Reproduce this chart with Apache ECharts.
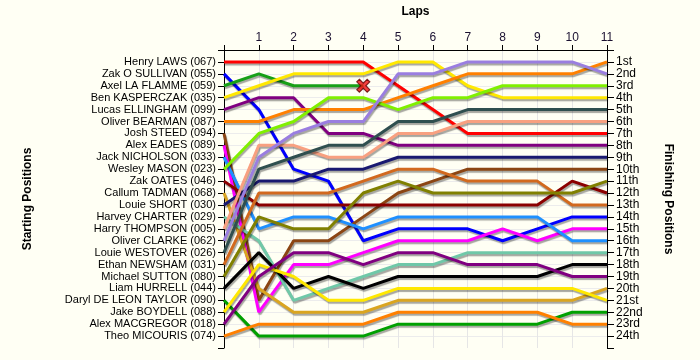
<!DOCTYPE html>
<html>
<head>
<meta charset="utf-8">
<script src="https://cdn.jsdelivr.net/npm/echarts@6/dist/echarts.min.js"></script>
<style>
html,body{margin:0;padding:0;background:#fffff4;}
#chart{width:700px;height:360px;}
</style>
</head>
<body>
<div id="chart"></div>
<script>
// Lap numbers
const laps = [0,1,2,3,4,5,6,7,8,9,10,11];
// Starting-grid names (row order)
const drivers = [
  "Henry LAWS (067)","Zak O SULLIVAN (055)","Axel LA FLAMME (059)","Ben KASPERCZAK (035)",
  "Lucas ELLINGHAM (099)","Oliver BEARMAN (087)","Josh STEED (094)","Alex EADES (089)",
  "Jack NICHOLSON (033)","Wesley MASON (023)","Zak OATES (046)","Callum TADMAN (068)",
  "Louie SHORT (030)","Harvey CHARTER (029)","Harry THOMPSON (005)","Oliver CLARKE (062)",
  "Louie WESTOVER (026)","Ethan NEWSHAM (031)","Michael SUTTON (080)","Liam HURRELL (044)",
  "Daryl DE LEON TAYLOR (090)","Jake BOYDELL (088)","Alex MACGREGOR (018)","Theo MICOURIS (074)"
];
// Finishing position tick labels
const finishLabels = ["1st","2nd","3rd","4th","5th","6th","7th","8th","9th","10th","11th","12th",
  "13th","14th","15th","16th","17th","18th","19th","20th","21st","22nd","23rd","24th"];

// Position per lap (lap 0 = grid)
const laws       = [1,1,1,1,1,3,5,7,7,7,7,7];
const osullivan  = [2,5,10,11,16,15,15,15,16,15,14,14];
const laflamme   = [3,2,3,3,3];               // retired after lap 4
const kasperczak = [4,3,2,2,2,1,1,3,4,4,4,4];
const ellingham  = [5,4,4,7,7,8,8,8,8,8,8,8];
const bearman    = [6,6,5,5,5,4,3,2,2,2,2,1];
const steed      = [7,21,16,16,14,12,11,10,10,10,10,10];
const eades      = [8,22,18,18,17,16,16,16,15,16,15,15];
const nicholson  = [9,15,14,14,15,14,14,14,14,14,16,16];
const mason      = [10,7,6,4,4,5,4,4,3,3,3,3];
const oates      = [11,13,13,13,13,13,13,13,13,13,11,12];
const tadman     = [12,20,22,22,22,21,21,21,21,21,21,20];
const short      = [13,11,11,10,10,9,9,9,9,9,9,9];
const charter    = [14,16,21,20,19,18,18,17,17,17,17,17];
const thompson   = [15,8,8,9,9,7,7,6,6,6,6,6];
const clarke     = [16,9,7,6,6,2,2,1,1,1,1,2];
const westover   = [17,10,9,8,8,6,6,5,5,5,5,5];
const newsham    = [18,12,12,12,11,10,10,11,11,11,13,13];
const sutton     = [19,14,15,15,12,11,12,12,12,12,12,11];
const hurrell    = [20,17,20,19,20,19,19,19,19,19,18,18];
const taylor     = [21,24,24,24,24,23,23,23,23,23,22,22];
const boydell    = [22,18,19,21,21,20,20,20,20,20,20,21];
const macgregor  = [23,19,17,17,18,17,17,18,18,18,19,19];
const micouris   = [24,23,23,23,23,22,22,22,22,22,23,23];

const positions = [laws,osullivan,laflamme,kasperczak,ellingham,bearman,steed,eades,nicholson,
  mason,oates,tadman,short,charter,thompson,clarke,westover,newsham,sutton,hurrell,taylor,
  boydell,macgregor,micouris];

const colors = ['#ff0000','#0000ff','#17a017','#ffe800','#800080','#ff8000','#8b4513','#ff00ff',
  '#1e90ff','#80f000','#8b0000','#daa520','#191970','#70c8a8','#f8a080','#9a7ee0','#2f4f4f',
  '#d2691e','#808000','#000000','#00a000','#ffe800','#800080','#ff8000'];

const series = positions.map((arr, i) => ({
  type: 'line',
  name: drivers[i],
  data: arr.map((p, k) => [laps[k], p]),
  showSymbol: false,
  symbol: 'none',
  silent: true,
  z: 3,
  lineStyle: {
    color: colors[i], width: 3,
    shadowColor: 'rgba(0,0,0,0.35)', shadowOffsetX: 1, shadowOffsetY: 2, shadowBlur: 1
  }
}));

// retirement marker
series.push({
  type: 'scatter',
  silent: true,
  z: 5,
  data: [[laps[laflamme.length - 1], laflamme[laflamme.length - 1]]],
  symbol: 'path://M2,0 L5,3 L8,0 L10,2 L7,5 L10,8 L8,10 L5,7 L2,10 L0,8 L3,5 L0,2 Z',
  symbolSize: 13,
  itemStyle: { color: '#f01010', borderColor: '#600000', borderWidth: 1.2 }
});

const font = 'Liberation Sans, Arial, sans-serif';
const chart = echarts.init(document.getElementById('chart'), null, {renderer: 'canvas'});
chart.setOption({
  animation: false,
  backgroundColor: '#fffff4',
  textStyle: { fontFamily: font },
  grid: { left: 224, right: 93, top: 50, bottom: 12, containLabel: false },
  xAxis: {
    type: 'value', position: 'top', min: 0, max: 11, interval: 1,
    name: 'Laps', nameLocation: 'middle', nameGap: 32,
    nameTextStyle: { fontWeight: 'bold', fontSize: 12, color: '#000', fontFamily: font },
    axisLine: { show: true, onZero: false, lineStyle: { color: '#000', width: 1 } },
    axisTick: { show: true, length: 5, lineStyle: { color: '#000' } },
    axisLabel: { fontSize: 12, color: '#1a1030', margin: 6, fontFamily: font,
      formatter: v => v === 0 ? '' : String(v) },
    splitLine: { show: true, lineStyle: { color: '#e6e6e6', width: 1 } }
  },
  yAxis: [
    {
      type: 'value', position: 'left', min: 0, max: 25, interval: 1, inverse: true,
      name: 'Starting Positions', nameLocation: 'middle', nameGap: 190,
      nameTextStyle: { fontWeight: 'bold', fontSize: 12, color: '#000', fontFamily: font },
      axisLine: { show: true, onZero: false, lineStyle: { color: '#000', width: 1 } },
      axisTick: { show: true, length: 6, lineStyle: { color: '#000' } },
      axisLabel: { fontSize: 11, color: '#000', margin: 8, fontFamily: font,
        formatter: v => (v >= 1 && v <= drivers.length) ? drivers[v - 1] : '' },
      splitLine: { show: true, showMinLine: false, showMaxLine: false, lineStyle: { color: '#ececec', width: 1 } }
    },
    {
      type: 'value', position: 'right', min: 0, max: 25, interval: 1, inverse: true,
      name: 'Finishing Positions', nameLocation: 'middle', nameGap: 55, nameRotate: -90,
      nameTextStyle: { fontWeight: 'bold', fontSize: 12, color: '#000', fontFamily: font },
      axisLine: { show: true, onZero: false, lineStyle: { color: '#000', width: 1 } },
      axisTick: { show: true, length: 7, lineStyle: { color: '#000' } },
      axisLabel: { fontSize: 12, color: '#000', margin: 9, fontFamily: font,
        formatter: v => (v >= 1 && v <= finishLabels.length) ? finishLabels[v - 1] : '' },
      splitLine: { show: false }
    }
  ],
  series: series
});
</script>
</body>
</html>
